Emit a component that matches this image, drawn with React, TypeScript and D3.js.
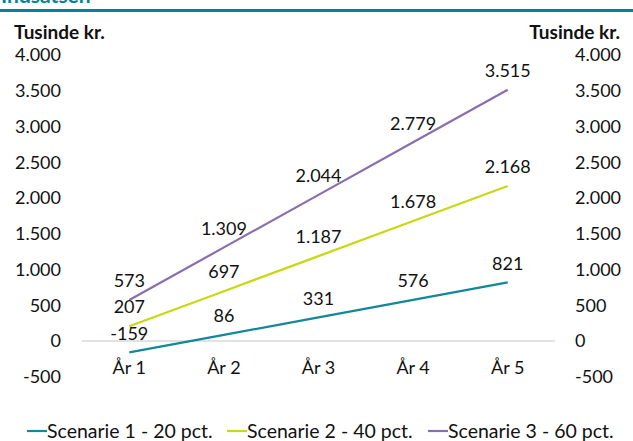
import React, { useRef, useEffect } from "react";
import * as d3 from "d3";

const categories = ["År 1", "År 2", "År 3", "År 4", "År 5"];
const scenario1 = [-159, 86, 331, 576, 821];
const scenario2 = [207, 697, 1187, 1678, 2168];
const scenario3 = [573, 1309, 2044, 2779, 3515];
const seriesNames = ["Scenarie 1 - 20 pct.", "Scenarie 2 - 40 pct.", "Scenarie 3 - 60 pct."];
const yTicks = [-500, 0, 500, 1000, 1500, 2000, 2500, 3000, 3500, 4000];

const colors = ["#12889a", "#c8d813", "#8a6eb0"];
const FONT = "Lato, 'Open Sans', sans-serif";

const App = () => {
  const canvas = useRef<HTMLDivElement>(null);
  const width = 633;
  const height = 441;

  const fmt = d3.formatLocale({
    decimal: ",",
    thousands: ".",
    grouping: [3],
    currency: ["", " kr."],
    minus: "-",
  }).format(",d");

  const drawChart = () => {
    d3.select(canvas.current).selectAll("*").remove();
    const svg = d3.select(canvas.current)
      .append("svg")
      .attr("width", width)
      .attr("height", height)
      .style("position", "absolute")
      .style("left", "0px")
      .style("top", "0px")
      .style("font-family", FONT);

    svg.append("rect").attr("width", width).attr("height", height).attr("fill", "#fff");

    // title is cut off at the top edge in the original
    svg.append("text")
      .attr("x", 1).attr("y", 3)
      .attr("font-size", 21).attr("font-weight", 700)
      .attr("fill", "#00849a")
      .text("Indsatsen");
    svg.append("rect")
      .attr("x", 0).attr("y", 9).attr("width", width).attr("height", 3)
      .attr("fill", "#00849a");

    const x = d3.scalePoint<string>()
      .domain(categories)
      .range([82, 555])
      .padding(0.5);

    const y = d3.scaleLinear()
      .domain([-500, 4000])
      .range([376.75, 55]);

    // axis titles
    svg.append("text").attr("x", 14).attr("y", 39)
      .attr("font-size", 19).attr("font-weight", 700).attr("fill", "#111")
      .text("Tusinde kr.");
    svg.append("text").attr("x", 620).attr("y", 39)
      .attr("text-anchor", "end")
      .attr("font-size", 19).attr("font-weight", 700).attr("fill", "#111")
      .text("Tusinde kr.");

    // zero line
    svg.append("line")
      .attr("x1", 82).attr("x2", 555)
      .attr("y1", y(0)).attr("y2", y(0))
      .attr("stroke", "#d9d9d9").attr("stroke-width", 1.3);

    // y tick labels, both sides
    svg.selectAll(".ytl").data(yTicks).enter().append("text")
      .attr("x", 61).attr("y", d => y(d))
      .attr("dy", "0.35em")
      .attr("text-anchor", "end")
      .attr("font-size", 18).attr("fill", "#111")
      .text(d => fmt(d));
    svg.selectAll(".ytr").data(yTicks).enter().append("text")
      .attr("x", 575).attr("y", d => y(d))
      .attr("dy", "0.35em")
      .attr("text-anchor", "start")
      .attr("font-size", 18).attr("fill", "#111")
      .text(d => fmt(d));

    // x labels
    svg.selectAll(".xl").data(categories).enter().append("text")
      .attr("x", d => x(d) as number).attr("y", 368)
      .attr("dy", "0.35em")
      .attr("text-anchor", "middle")
      .attr("font-size", 18).attr("fill", "#111")
      .text(d => d);

    const allSeries = [scenario1, scenario2, scenario3];
    const line = d3.line<number>()
      .x((d, i) => x(categories[i]) as number)
      .y(d => y(d));

    allSeries.forEach((s, k) => {
      svg.append("path")
        .datum(s)
        .attr("d", line)
        .attr("fill", "none")
        .attr("stroke", colors[k])
        .attr("stroke-width", 2.2);
    });

    allSeries.forEach((s) => {
      svg.selectAll(null).data(s).enter().append("text")
        .attr("x", (d, i) => x(categories[i]) as number)
        .attr("y", d => y(d) - 19)
        .attr("dy", "0.35em")
        .attr("text-anchor", "middle")
        .attr("font-size", 18).attr("fill", "#111")
        .text(d => fmt(d));
    });

    // legend
    const legendX = [27, 227, 428];
    seriesNames.forEach((name, k) => {
      const lg = svg.append("g").attr("transform", "translate(" + legendX[k] + ",431)");
      lg.append("line").attr("x1", 0).attr("x2", 20).attr("y1", 0).attr("y2", 0)
        .attr("stroke", colors[k]).attr("stroke-width", 2.2);
      lg.append("text").attr("x", 20).attr("y", 0).attr("dy", "0.35em")
        .attr("font-size", 19.5).attr("fill", "#111")
        .text(name);
    });
  };

  useEffect(() => {
    drawChart();
  });

  return <div ref={canvas}></div>;
};

export default App;
